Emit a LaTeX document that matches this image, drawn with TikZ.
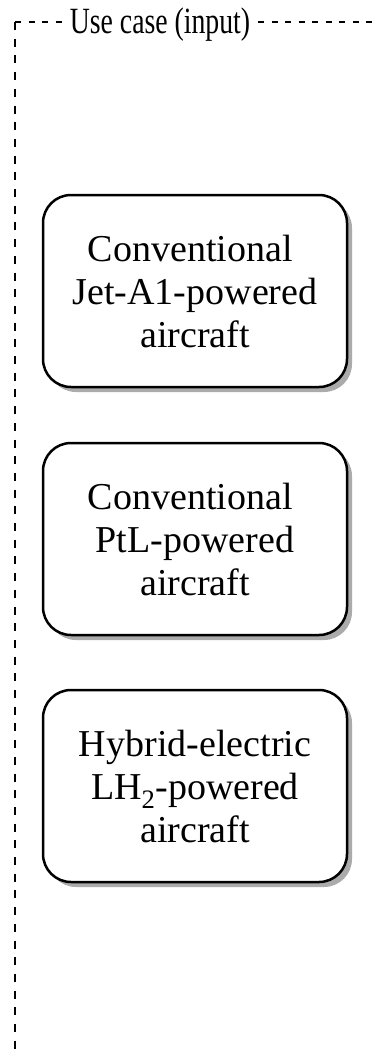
\documentclass[tikz,border=0pt]{standalone}
\usepackage{fontspec}
\setmainfont{Liberation Serif}
\usetikzlibrary{shadows}
\begin{document}
\begin{tikzpicture}[x=1pt,y=1pt,
  hline/.style={line width=2.5pt, dash pattern=on 6pt off 7.5pt},
  vline/.style={line width=2.5pt, dash pattern=on 8pt off 8.7pt},
  casebox/.style={draw, line width=2.5pt, rounded corners=28pt, fill=white,
    minimum width=304pt, minimum height=192pt, align=center,
    font=\fontsize{38}{43}\selectfont,
    drop shadow={shadow xshift=5pt, shadow yshift=-5pt, fill=black!33, opacity=1}},
  titlelabel/.style={fill=white, inner xsep=3pt, inner ysep=2pt, anchor=base,
    font=\fontsize{37}{40}\selectfont}]
\useasboundingbox (0,0) rectangle (372,-1053);
\clip (0,0) rectangle (372,-1053);
% dashed frame, open to the right and bottom
\coordinate (tl) at (15,-22);
\coordinate (tr) at (390,-22);
\coordinate (bl) at (15,-1070);
\draw[hline] (tl) -- (tr);
\draw[vline] (tl) -- (bl);
\node[titlelabel] (title) at (160,-33) {\scalebox{0.75}[1]{Use case (input)}};
% aircraft use cases
\node[casebox] (jet) at (195,-291) {Conventional\kern0.25em\\Jet-A1-powered\\aircraft};
\node[casebox] (ptl) at (195,-539) {Conventional\kern0.25em\\PtL-powered\\aircraft};
\node[casebox] (lh2) at (195,-786) {Hybrid-electric\\LH\textsubscript{2}-powered\\aircraft};
\end{tikzpicture}
\end{document}
